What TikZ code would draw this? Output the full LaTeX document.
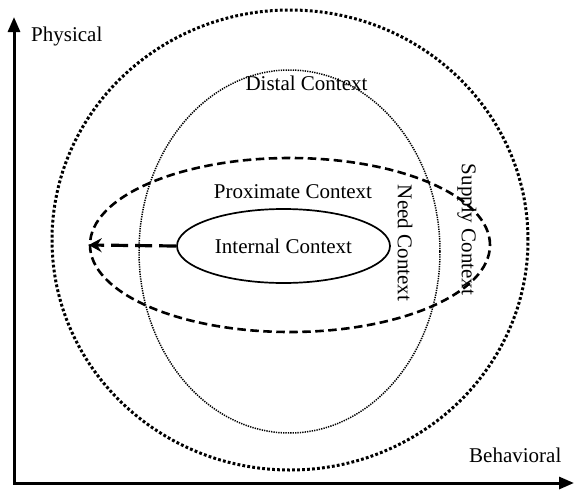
\documentclass[tikz,border=0pt]{standalone}
\usepackage{fontspec}
\setmainfont{Liberation Serif}
\usetikzlibrary{shapes.geometric,arrows.meta}
\begin{document}
\begin{tikzpicture}[x=1pt,y=-1pt,
  lbl/.style={font=\fontsize{21}{24}\selectfont, inner sep=0pt},
  ring/.style={ellipse, inner sep=0pt, draw=black},
  outerring/.style={ring, line width=3pt, dash pattern=on 2.8pt off 2.2pt},
  distalring/.style={ring, line width=1.5pt, dash pattern=on 1.3pt off 1.1pt},
  proxring/.style={ring, line width=2.6pt, dash pattern=on 8.5pt off 4.5pt},
  internalring/.style={ring, line width=1.7pt},
  axis/.style={line width=3pt, {Triangle[length=15pt,width=12pt]}-{Triangle[length=15pt,width=12pt]}},
  pointer/.style={line width=3.2pt, dash pattern=on 17pt off 7pt, -{Stealth[length=13pt,width=14pt,inset=4.5pt]}}
]
\useasboundingbox (0,0) rectangle (574,491);

% axes
\coordinate (ytop) at (14,17);
\coordinate (origin) at (14,483);
\coordinate (xend) at (574,483);
\draw[axis] (ytop) -- (origin) -- (xend);
\node[lbl, anchor=base west] (phys) at (31,41.5) {Physical};
\node[lbl, anchor=base west] (behav) at (469,462.5) {Behavioral};

% context rings
\node[outerring, minimum width=476pt, minimum height=460pt] (supply) at (290,240) {};
\node[distalring, minimum width=301pt, minimum height=363pt] (distal) at (289.5,251.5) {};
\node[proxring, minimum width=400pt, minimum height=174pt] (prox) at (290,245) {};
\node[internalring, minimum width=213pt, minimum height=74pt] (internal) at (283.5,246) {};

% labels
\node[lbl] (intlbl) at (283.5,246) {Internal Context};
\node[lbl, anchor=base] (proxlbl) at (293,198.3) {Proximate Context};
\node[lbl, anchor=base] (distlbl) at (306.5,90.5) {Distal Context};
\node[lbl, rotate=-90] (needlbl) at (405,243) {Need Context};
\node[lbl, rotate=-90] (supplbl) at (467,229.5) {Supply Context};

% pointer from internal to proximate boundary
\draw[pointer] (internal.west) -- (prox.west);
\end{tikzpicture}
\end{document}
